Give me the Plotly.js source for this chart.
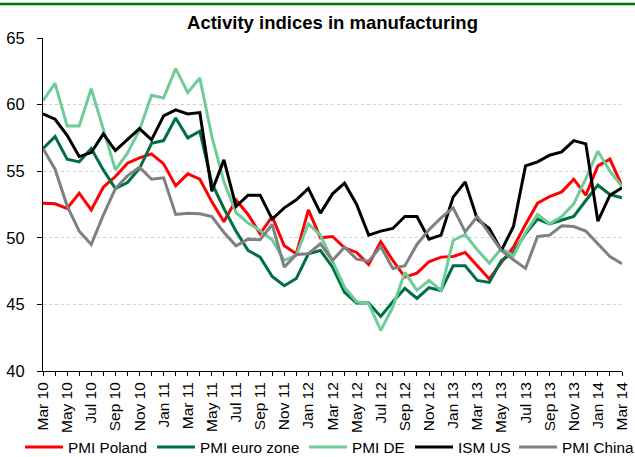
<!DOCTYPE html>
<html>
<head>
<meta charset="utf-8">
<script src="https://cdn.plot.ly/plotly-3.0.1.min.js"></script>
<style>
  html, body { margin: 0; padding: 0; background: #ffffff; }
  #chart { width: 635px; height: 457px; }
</style>
</head>
<body>
<div id="chart"></div>
<script>
// Categories (monthly, Mar 2010 – Mar 2014)
var months = [
  "Mar 10","Apr 10","May 10","Jun 10","Jul 10","Aug 10","Sep 10","Oct 10","Nov 10","Dec 10",
  "Jan 11","Feb 11","Mar 11","Apr 11","May 11","Jun 11","Jul 11","Aug 11","Sep 11","Oct 11","Nov 11","Dec 11",
  "Jan 12","Feb 12","Mar 12","Apr 12","May 12","Jun 12","Jul 12","Aug 12","Sep 12","Oct 12","Nov 12","Dec 12",
  "Jan 13","Feb 13","Mar 13","Apr 13","May 13","Jun 13","Jul 13","Aug 13","Sep 13","Oct 13","Nov 13","Dec 13",
  "Jan 14","Feb 14","Mar 14"
];

// Tick labels shown every second month
var tickLabels = ["Mar 10","May 10","Jul 10","Sep 10","Nov 10","Jan 11","Mar 11","May 11","Jul 11","Sep 11",
  "Nov 11","Jan 12","Mar 12","May 12","Jul 12","Sep 12","Nov 12","Jan 13","Mar 13","May 13","Jul 13",
  "Sep 13","Nov 13","Jan 14","Mar 14"];

var pmiPoland = [52.6,52.55,52.2,53.35,52.1,53.8,54.6,55.6,56.0,56.3,
  55.55,53.9,54.8,54.4,52.7,51.2,52.85,51.75,50.3,51.6,
  49.4,48.8,52.1,50.0,50.1,49.25,48.9,48.0,49.7,48.3,
  47.05,47.35,48.2,48.55,48.6,48.9,47.9,46.9,48.15,49.3,
  51.0,52.6,53.1,53.45,54.4,53.2,55.4,55.9,53.9];

var pmiEuro = [56.7,57.6,55.9,55.7,56.7,55.1,53.7,54.15,55.2,57.1,
  57.3,59.0,57.5,58.0,54.1,52.2,50.5,49.05,48.55,47.1,
  46.4,46.95,48.8,49.05,47.8,45.9,45.1,45.1,44.1,45.2,
  46.2,45.45,46.25,46.05,47.9,47.9,46.8,46.65,48.3,48.9,
  50.3,51.4,51.05,51.3,51.6,52.8,53.95,53.25,53.0];

var pmiDE = [60.3,61.6,58.4,58.4,61.2,58.2,55.1,56.35,58.1,60.7,
  60.5,62.7,60.9,62.0,57.6,54.2,51.9,51.1,50.55,49.85,
  48.3,48.7,51.05,50.2,48.3,46.3,45.2,45.05,43.05,44.8,
  47.4,46.05,46.8,46.05,49.8,50.25,49.1,48.1,49.2,48.65,
  50.4,51.75,51.05,51.6,52.55,54.45,56.5,55.0,53.85];

var ismUS = [59.3,58.9,57.7,56.1,56.4,57.8,56.55,57.35,58.2,57.35,
  59.15,59.6,59.3,59.4,53.5,55.85,52.35,53.2,53.2,51.4,
  52.25,52.85,53.7,51.85,53.3,54.1,52.5,50.2,50.5,50.7,
  51.6,51.6,49.9,50.2,53.05,54.2,51.4,50.7,49.05,50.85,
  55.4,55.7,56.2,56.45,57.3,57.05,51.25,53.2,53.75];

var pmiChina = [56.7,55.15,52.4,50.5,49.5,51.7,53.7,54.65,55.3,54.4,
  54.5,51.75,51.85,51.8,51.6,50.4,49.4,49.9,49.85,51.0,
  47.8,48.75,48.8,49.55,48.3,49.3,48.4,48.25,49.35,47.7,
  47.9,49.5,50.6,51.5,52.25,50.45,51.6,50.35,49.05,48.35,
  47.7,50.1,50.2,50.9,50.85,50.5,49.55,48.6,48.05];

var seriesNames = ["PMI Poland","PMI euro zone","PMI DE","ISM US","PMI China"];
var seriesValues = [pmiPoland, pmiEuro, pmiDE, ismUS, pmiChina];
var seriesColors = ["#ff0000","#006f45","#6dcc98","#000000","#808080"];

var legendIds = ["legend","legend2","legend3","legend4","legend5"];
// left edge (px, container) of each legend entry
var legendLeft = [20, 152, 304, 410, 514];

var traces = seriesNames.map(function (name, k) {
  return {
    type: "scatter",
    mode: "lines",
    name: name,
    x: months,
    y: seriesValues[k],
    legend: legendIds[k],
    line: { color: seriesColors[k], width: 3 }
  };
});

// tick text: label on every second month, blank otherwise
var tickText = months.map(function (m) { return tickLabels.indexOf(m) >= 0 ? m : ""; });

var sans = "'Liberation Sans', Arial, sans-serif";

var layout = {
  width: 635,
  height: 457,
  margin: { l: 43, r: 13, t: 38, b: 86 },
  paper_bgcolor: "#ffffff",
  plot_bgcolor: "#ffffff",
  showlegend: true,
  title: {
    text: "<b>Activity indices in manufacturing</b>",
    font: { family: sans, size: 18.5, color: "#000000" },
    x: 0.5, xref: "paper", xanchor: "center",
    y: 1 - 23 / 457, yref: "container", yanchor: "middle"
  },
  xaxis: {
    type: "category",
    range: [0, 48],
    tickmode: "array",
    tickvals: months,
    ticktext: tickText,
    tickangle: -90,
    ticks: "outside",
    ticklen: 4,
    tickcolor: "#000000",
    showline: true,
    linecolor: "#000000",
    linewidth: 1,
    showgrid: false,
    zeroline: false,
    automargin: false,
    tickfont: { family: sans, size: 15.5, color: "#000000" },
    fixedrange: true
  },
  yaxis: {
    range: [40, 65],
    tickmode: "linear",
    tick0: 40,
    dtick: 5,
    ticks: "outside",
    ticklen: 5,
    tickcolor: "#000000",
    showline: true,
    linecolor: "#000000",
    linewidth: 1,
    showgrid: true,
    gridcolor: "#d0d0d0",
    griddash: "dot",
    gridwidth: 1,
    zeroline: false,
    automargin: false,
    ticklabelstandoff: 9,
    tickfont: { family: sans, size: 16.5, color: "#000000" },
    fixedrange: true
  },
  shapes: [{
    type: "line",
    xref: "paper", yref: "paper",
    x0: -43 / 579, x1: 592 / 579,
    y0: (371 - 4) / 333, y1: (371 - 4) / 333,
    line: { color: "#007000", width: 2.5 }
  }]
};

legendIds.forEach(function (id, k) {
  layout[id] = {
    orientation: "h",
    x: legendLeft[k] / 635,
    xref: "container",
    xanchor: "left",
    y: 1 - 447 / 457,
    yref: "container",
    yanchor: "middle",
    font: { family: sans, size: 15.3, color: "#000000" },
    bgcolor: "rgba(0,0,0,0)",
    borderwidth: 0,
    itemwidth: 38
  };
});

Plotly.newPlot("chart", traces, layout, { staticPlot: true, displayModeBar: false });
</script>
</body>
</html>
